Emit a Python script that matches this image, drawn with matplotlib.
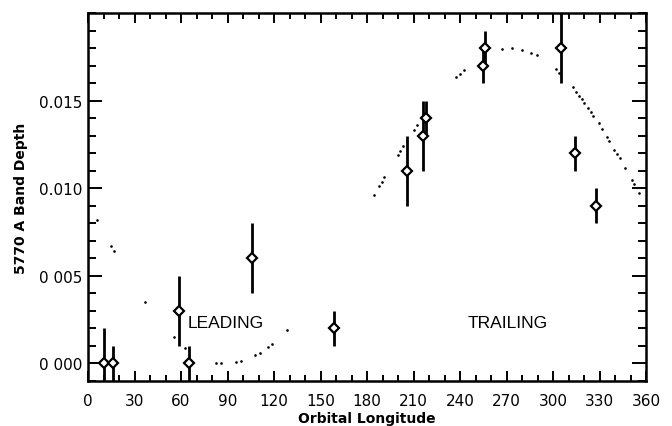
import matplotlib
matplotlib.use("Agg")
import matplotlib.pyplot as plt
from matplotlib.ticker import MultipleLocator, FixedLocator, FixedFormatter

# Measurements
lon = [10, 16, 59, 65, 106, 159, 206, 216, 218, 255, 256, 305, 314, 328]
depth = [0.000, 0.000, 0.003, 0.000, 0.006, 0.002, 0.011, 0.013, 0.014,
         0.017, 0.018, 0.018, 0.012, 0.009]
err = [0.002, 0.001, 0.002, 0.001, 0.002, 0.001, 0.002, 0.002, 0.001,
       0.001, 0.001, 0.002, 0.001, 0.001]

# Dotted model curve (visible dots)
model_lon = [5.6, 14.8, 17.0, 37.0, 55.3, 62.6, 82.6, 85.8, 95.5, 98.7,
             107.7, 111.0, 115.9, 118.5, 128.2, 184.5, 187.7, 189.5, 191.2,
             199.8, 201.3, 203.4, 210.3, 212.1, 237.6, 240.0, 242.8, 267.3,
             273.8, 280.2, 285.8, 289.5, 301.9, 304.1, 312.7, 314.8, 316.8,
             318.5, 320.0, 322.4, 324.3, 326.0, 329.7, 331.4, 335.0, 336.3,
             339.5, 341.1, 343.2, 346.5, 350.8, 352.5, 355.7]
model_depth = [0.0082, 0.0067, 0.0064, 0.0035, 0.0015, 0.0009, 0.00005,
               0.00003, 0.0001, 0.00012, 0.00046, 0.0006, 0.00093, 0.00112,
               0.0019, 0.0096, 0.0101, 0.01038, 0.01063, 0.0119, 0.0121,
               0.0124, 0.01335, 0.0136, 0.01633, 0.01651, 0.01674, 0.01794,
               0.01798, 0.01789, 0.01773, 0.0176, 0.0168, 0.01659, 0.01575,
               0.0155, 0.01527, 0.01509, 0.01487, 0.01459, 0.01436, 0.01411,
               0.0137, 0.0134, 0.01293, 0.01269, 0.01221, 0.01194, 0.0117,
               0.01118, 0.01046, 0.01023, 0.00975]

xticks = [0, 30, 60, 90, 120, 150, 180, 210, 240, 270, 300, 330, 360]
yticks = [0.000, 0.005, 0.010, 0.015]
ytick_labels = ["0 000", "0 005", "0.010", "0.015"]

plt.rcParams['font.family'] = ['DejaVu Sans']

fig = plt.figure(figsize=(6.72, 4.27), dpi=100)
ax = fig.add_axes([88/672, 45/427, 558/672, 368/427])

ax.plot(model_lon, model_depth, linestyle='none', marker='o', markersize=1.9,
        color='black', markeredgewidth=0)
ax.errorbar(lon, depth, yerr=err, fmt='D', color='black', ecolor='black',
            elinewidth=2.0, capsize=0, markersize=5.5, mfc='white',
            mec='black', mew=1.6)

ax.text(64.3, 0.00233, "LEADING", fontsize=12.5, ha='left', va='center',
        family=['Liberation Sans'])
ax.text(244.7, 0.00233, "TRAILING", fontsize=12.5, ha='left', va='center',
        family=['Liberation Sans'])

ax.set_xlim(0, 360)
ax.set_ylim(-0.001, 0.020)
ax.xaxis.set_major_locator(FixedLocator(xticks))
ax.xaxis.set_minor_locator(MultipleLocator(10))
ax.yaxis.set_major_locator(FixedLocator(yticks))
ax.yaxis.set_major_formatter(FixedFormatter(ytick_labels))
ax.yaxis.set_minor_locator(MultipleLocator(0.001))

ax.tick_params(axis='both', which='both', direction='in', top=True,
               right=True, colors='black', labelsize=11, width=1.4)
ax.tick_params(axis='x', which='major', length=7, pad=9)
ax.tick_params(axis='x', which='minor', length=4)
ax.tick_params(axis='y', which='major', length=10, pad=4)
ax.tick_params(axis='y', which='minor', length=6)
for s in ax.spines.values():
    s.set_linewidth(1.8)

ax.set_xlabel("Orbital Longitude", fontsize=10, fontweight='bold', va='center')
ax.xaxis.set_label_coords(0.5, -0.1)
ax.set_ylabel("5770 A Band Depth", fontsize=10, fontweight='bold', labelpad=8)

fig.savefig("out.png", dpi=100)
